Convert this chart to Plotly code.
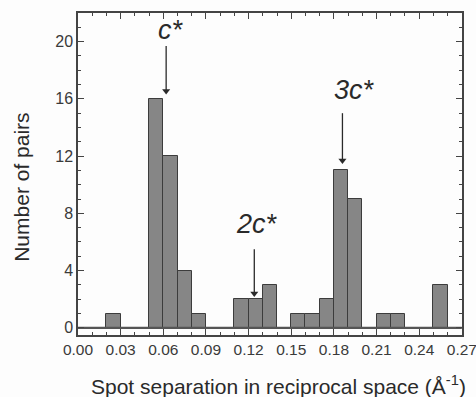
import plotly.graph_objects as go

# ---- data ----
bin_left = [round(0.01 * i, 2) for i in range(27)]
counts = [0, 0, 1, 0, 0, 16, 12, 4, 1, 0, 0, 2, 2, 3, 0, 1, 1, 2, 11, 9, 0, 1, 1, 0, 0, 3, 0]
bin_width = 0.01
c_star = 0.062
harmonics = [1, 2, 3]
harmonic_labels = ["c*", "2c*", "3c*"]
x_ticks = [0.00, 0.03, 0.06, 0.09, 0.12, 0.15, 0.18, 0.21, 0.24, 0.27]
y_ticks = [0, 4, 8, 12, 16, 20]
x_title = "Spot separation in reciprocal space (Å<sup>-1</sup>)"
y_title = "Number of pairs"

# annotation placement (arrow tip, arrow start, label centre, label x-shift in px)
arrow_tip = [16.2, 2.05, 11.35]
arrow_start = [19.7, 5.5, 15.0]
label_y = [20.8, 7.25, 16.6]
label_shift = [5, 3, 12]

centers = [b + bin_width / 2 for b in bin_left]
x_edge_end = bin_left[-1] + bin_width

FONT = "Liberation Sans, Arial, sans-serif"
TXT = "#3a3a3a"
DARK = "#2a2a2a"

fig = go.Figure()
# baseline (zero-count bins)
fig.add_trace(go.Scatter(x=[bin_left[0], x_edge_end], y=[0, 0], mode="lines",
                         line=dict(color="#555555", width=2.2), hoverinfo="skip",
                         showlegend=False))
fig.add_trace(go.Bar(x=centers, y=counts, width=bin_width,
                     marker=dict(color="#868686", line=dict(color="#3c3c3c", width=1)),
                     showlegend=False))

annotations = []
for h, lab, tip, start, ly, sh in zip(harmonics, harmonic_labels, arrow_tip, arrow_start,
                                      label_y, label_shift):
    xp = c_star * h
    fig.add_trace(go.Scatter(x=[xp, xp], y=[start, tip + 0.35], mode="lines",
                             line=dict(color=DARK, width=1.3), hoverinfo="skip",
                             showlegend=False))
    fig.add_trace(go.Scatter(x=[xp], y=[tip + 0.35], mode="markers",
                             marker=dict(symbol="triangle-down", size=7, color=DARK,
                                         line=dict(width=0)),
                             hoverinfo="skip", showlegend=False))
    annotations.append(dict(x=xp, y=ly, xref="x", yref="y", xshift=sh,
                            text="<i>" + lab + "</i>", showarrow=False,
                            font=dict(family=FONT, size=27, color=DARK)))

# axis titles placed as paper annotations
annotations.append(dict(x=0.523, y=-0.155, xref="paper", yref="paper", text=x_title,
                        showarrow=False, xanchor="center", yanchor="middle",
                        font=dict(family=FONT, size=21, color=DARK)))
annotations.append(dict(x=-0.146, y=0.46, xref="paper", yref="paper", text=y_title,
                        showarrow=False, textangle=-90, xanchor="center", yanchor="middle",
                        font=dict(family=FONT, size=21, color=DARK)))

fig.update_layout(
    width=476, height=397,
    margin=dict(l=78, r=14, t=13, b=62),
    paper_bgcolor="#fdfdfd", plot_bgcolor="#fdfdfd",
    font=dict(family=FONT, color=TXT, size=15),
    bargap=0,
    annotations=annotations,
)
fig.update_xaxes(range=[0, 0.2701], tickvals=x_ticks, tickformat=".2f",
                 ticks="inside", ticklen=6, tickwidth=1.2, tickcolor="#444",
                 minor=dict(dtick=0.01, tick0=0, ticks="inside", ticklen=3, tickcolor="#444"),
                 showline=True, linecolor="#444", linewidth=1.5, mirror="ticks",
                 showgrid=False, zeroline=False, automargin=False,
                 ticklabeloverflow="allow",
                 tickfont=dict(size=15.5, color=TXT))
fig.update_yaxes(range=[-0.5, 22], tickvals=y_ticks,
                 ticks="inside", ticklen=6, tickwidth=1.2, tickcolor="#444",
                 minor=dict(dtick=1, tick0=0, ticks="inside", ticklen=3, tickcolor="#444"),
                 showline=True, linecolor="#444", linewidth=1.5, mirror="ticks",
                 showgrid=False, zeroline=False, automargin=False,
                 tickfont=dict(size=16, color=TXT))

# remove the default 8px page margin so the figure sits at the window's corner
fig.write_html("out.html",
               config={"displayModeBar": False},
               post_script="document.body.style.margin='0';document.body.style.overflow='hidden';")
